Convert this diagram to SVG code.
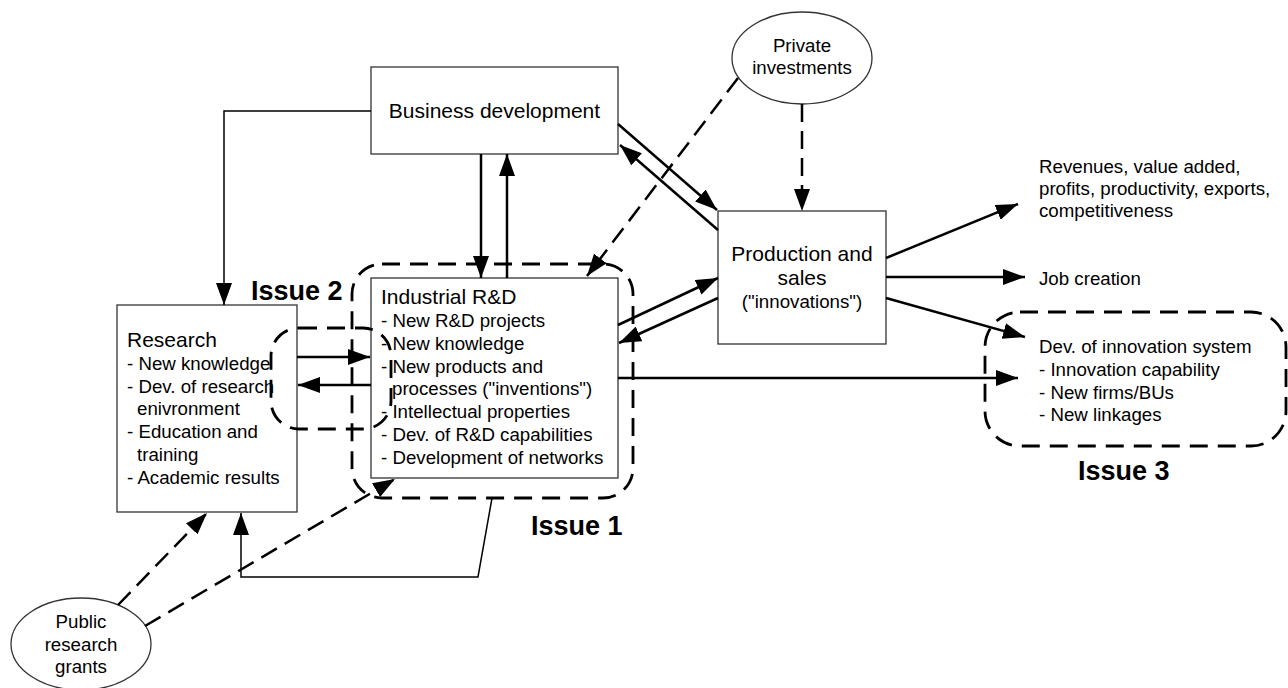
<svg xmlns="http://www.w3.org/2000/svg" width="1288" height="688" viewBox="0 0 1288 688">
<defs>
<marker id="ah" markerWidth="22" markerHeight="16" refX="22" refY="8" orient="auto" markerUnits="userSpaceOnUse"><path d="M0,0 L22,8 L0,16 z" fill="#000"/></marker>
<style>
text{font-family:"Liberation Sans",Arial,sans-serif;fill:#000}
.t{font-size:21px}
.s{font-size:18.7px}
.iss{font-size:27px;font-weight:bold}
.box{fill:#fff;stroke:#333;stroke-width:1.3}
.ell{fill:#fff;stroke:#333;stroke-width:1.3}
.thick{fill:none;stroke:#000;stroke-width:2.5}
.thin{fill:none;stroke:#000;stroke-width:1.5}
.dash{fill:none;stroke:#000;stroke-width:2.5;stroke-dasharray:18 9}
.issue{fill:none;stroke:#000;stroke-width:2.8;stroke-dasharray:18 10}
.m{text-anchor:middle}
</style>
</defs>
<rect width="1288" height="688" fill="#fff"/>

<g id="business-development">
<rect class="box" x="371" y="67" width="247" height="87"/>
<text class="t m" x="494.5" y="118">Business development</text>
</g>

<g id="research">
<rect class="box" x="117" y="305" width="180" height="207"/>
<text class="t" x="127" y="347">Research</text>
<text class="s" x="127" y="370">- New knowledge</text>
<text class="s" x="127" y="393">- Dev. of research</text>
<text class="s" x="137" y="415">enivronment</text>
<text class="s" x="127" y="438">- Education and</text>
<text class="s" x="137" y="461">training</text>
<text class="s" x="127" y="484">- Academic results</text>
</g>

<g id="industrial-rd">
<rect class="box" x="371" y="278" width="247" height="200"/>
<text class="t" x="381" y="304">Industrial R&amp;D</text>
<text class="s" x="381" y="327">- New R&amp;D projects</text>
<text class="s" x="381" y="350">- New knowledge</text>
<text class="s" x="381" y="373">- New products and</text>
<text class="s" x="392" y="395">processes ("inventions")</text>
<text class="s" x="381" y="418">- Intellectual properties</text>
<text class="s" x="381" y="441">- Dev. of R&amp;D capabilities</text>
<text class="s" x="381" y="464">- Development of networks</text>
</g>

<g id="production-sales">
<rect class="box" x="718" y="211" width="168" height="133"/>
<text class="t m" x="802" y="261">Production and</text>
<text class="t m" x="802" y="285">sales</text>
<text class="s m" x="802" y="308">("innovations")</text>
</g>

<g id="private-investments">
<ellipse class="ell" cx="802" cy="58" rx="70" ry="46"/>
<text class="s m" x="802" y="52">Private</text>
<text class="s m" x="802" y="74">investments</text>
</g>

<g id="public-grants">
<ellipse class="ell" cx="81" cy="644" rx="70" ry="46"/>
<text class="s m" x="81" y="628">Public</text>
<text class="s m" x="81" y="651">research</text>
<text class="s m" x="81" y="673">grants</text>
</g>

<g id="revenues">
<text class="s" x="1039" y="173">Revenues, value added,</text>
<text class="s" x="1039" y="195">profits, productivity, exports,</text>
<text class="s" x="1039" y="217">competitiveness</text>
</g>

<g id="job-creation">
<text class="s" x="1039" y="285">Job creation</text>
</g>

<g id="innovation-system">
<text class="s" x="1039" y="353">Dev. of innovation system</text>
<text class="s" x="1039" y="376">- Innovation capability</text>
<text class="s" x="1039" y="399">- New firms/BUs</text>
<text class="s" x="1039" y="421">- New linkages</text>
</g>

<g id="issue-1">
<rect class="issue" x="352" y="264" width="281" height="234" rx="30" ry="30"/>
<text class="iss" x="531" y="535">Issue 1</text>
</g>

<g id="issue-2">
<rect class="issue" x="271" y="328" width="120" height="101" rx="28" ry="28"/>
<text class="iss" x="251" y="300">Issue 2</text>
</g>

<g id="issue-3">
<rect class="issue" x="985" y="312" width="301" height="134" rx="35" ry="35"/>
<text class="iss" x="1078" y="480">Issue 3</text>
</g>

<g id="connectors">
<polyline class="thin" points="371,111 224,111 224,305" marker-end="url(#ah)"/>
<polyline class="thin" points="492,498 478,577 241,577 241,513" marker-end="url(#ah)"/>
<line class="thick" x1="481" y1="154" x2="481" y2="278" marker-end="url(#ah)"/>
<line class="thick" x1="507" y1="278" x2="507" y2="154" marker-end="url(#ah)"/>
<line class="thick" x1="618" y1="124" x2="717" y2="210" marker-end="url(#ah)"/>
<line class="thick" x1="718" y1="230" x2="620" y2="145" marker-end="url(#ah)"/>
<line class="thick" x1="618" y1="325" x2="718" y2="278" marker-end="url(#ah)"/>
<line class="thick" x1="718" y1="298" x2="619" y2="343" marker-end="url(#ah)"/>
<line class="thick" x1="618" y1="378" x2="1018" y2="378" marker-end="url(#ah)"/>
<line class="thick" x1="297" y1="357" x2="370" y2="357" marker-end="url(#ah)"/>
<line class="thick" x1="371" y1="385" x2="298" y2="385" marker-end="url(#ah)"/>
<line class="thick" x1="886" y1="258" x2="1018" y2="204" marker-end="url(#ah)"/>
<line class="thick" x1="886" y1="277" x2="1025" y2="277" marker-end="url(#ah)"/>
<line class="thick" x1="886" y1="298" x2="1025" y2="337" marker-end="url(#ah)"/>
<line class="dash" x1="802" y1="104" x2="802" y2="211" marker-end="url(#ah)"/>
<line class="dash" x1="738" y1="78" x2="587" y2="276" marker-end="url(#ah)"/>
<line class="dash" x1="118" y1="605" x2="207" y2="513" marker-end="url(#ah)"/>
<line class="dash" x1="145" y1="626" x2="395" y2="479" marker-end="url(#ah)"/>
</g>
</svg>
